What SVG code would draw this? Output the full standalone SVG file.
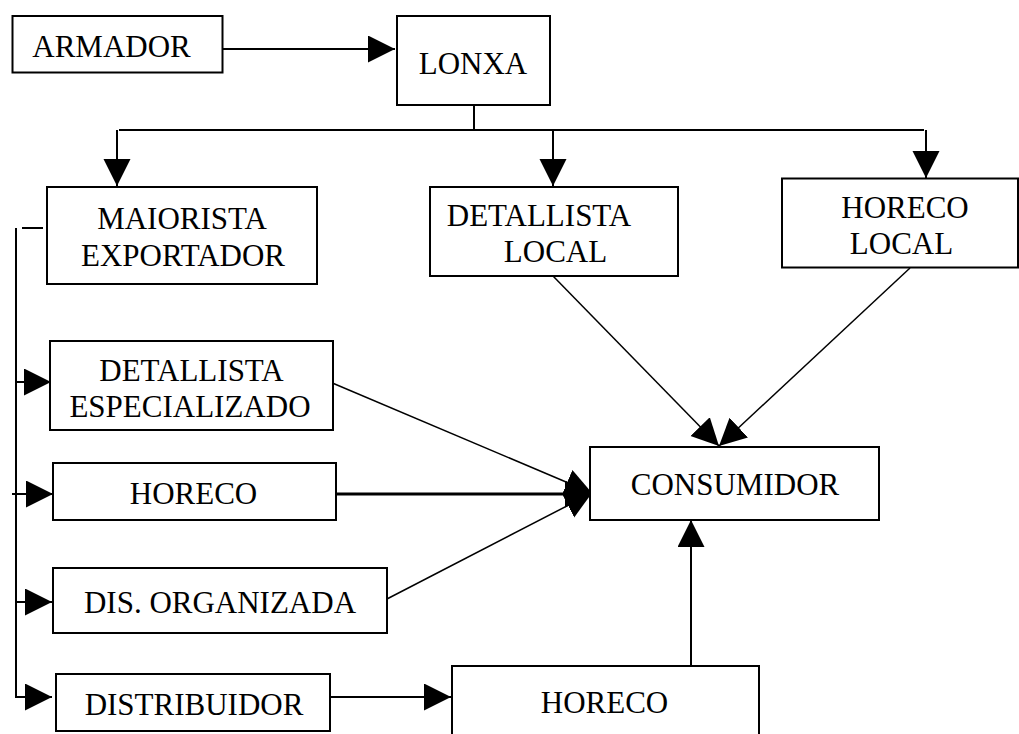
<svg xmlns="http://www.w3.org/2000/svg" width="1019" height="734" viewBox="0 0 1019 734">
<style>
.box{fill:#fff;stroke:#000;stroke-width:2}
.t{font-family:"Liberation Serif","Times New Roman",serif;font-size:31px;fill:#000;text-anchor:middle}
.c{fill:none;stroke:#000;stroke-width:2}
.thin{fill:none;stroke:#000;stroke-width:1.5}
.thick{fill:none;stroke:#000;stroke-width:3}
</style>
<defs>
<marker id="ah" markerUnits="userSpaceOnUse" markerWidth="28" markerHeight="28" refX="27" refY="13.5" orient="auto" viewBox="0 0 28 28">
<path d="M0,0 L27,13.5 L0,27 z" fill="#000"/>
</marker>
</defs>
<rect width="1019" height="734" fill="#fff"/>
<g id="connectors">
<line class="c" x1="221" y1="49" x2="395" y2="49" marker-end="url(#ah)"/>
<line class="c" x1="474" y1="105" x2="474" y2="130"/>
<line class="c" x1="119" y1="130" x2="924" y2="130"/>
<line class="c" x1="117" y1="130" x2="117" y2="186" marker-end="url(#ah)"/>
<line class="c" x1="553" y1="130" x2="553" y2="186" marker-end="url(#ah)"/>
<line class="c" x1="926" y1="130" x2="926" y2="178" marker-end="url(#ah)"/>
<line class="c" x1="22" y1="228" x2="43" y2="228"/>
<path class="c" d="M16,228 V697 H52" marker-end="url(#ah)"/>
<line class="c" x1="16" y1="382" x2="51" y2="382" marker-end="url(#ah)"/>
<line class="c" x1="12" y1="494" x2="53" y2="494" marker-end="url(#ah)"/>
<line class="c" x1="16" y1="602" x2="52" y2="602" marker-end="url(#ah)"/>
<line class="c" x1="330" y1="697" x2="451" y2="697" marker-end="url(#ah)"/>
<line class="thin" x1="330" y1="382" x2="592" y2="493" marker-end="url(#ah)"/>
<line class="thick" x1="333" y1="494" x2="592" y2="494" marker-end="url(#ah)"/>
<line class="thin" x1="385" y1="600" x2="592" y2="493" marker-end="url(#ah)"/>
<line class="thin" x1="553" y1="276" x2="719" y2="446" marker-end="url(#ah)"/>
<line class="thin" x1="910" y1="268" x2="719" y2="446" marker-end="url(#ah)"/>
<line class="c" x1="691" y1="666" x2="691" y2="520" marker-end="url(#ah)"/>
</g>
<g id="armador"><rect class="box" x="12.5" y="16" width="210" height="56.5"/><text class="t" x="111.5" y="57">ARMADOR</text></g>
<g id="lonxa"><rect class="box" x="397" y="16" width="153" height="89"/><text class="t" x="473" y="73.5">LONXA</text></g>
<g id="maiorista"><rect class="box" x="47" y="187" width="270" height="97"/><text class="t" x="182" y="229">MAIORISTA</text><text class="t" x="183" y="266">EXPORTADOR</text></g>
<g id="detallista-local"><rect class="box" x="430" y="187" width="248" height="89"/><text class="t" x="539" y="226">DETALLISTA</text><text class="t" x="555.5" y="262">LOCAL</text></g>
<g id="horeco-local"><rect class="box" x="782" y="178.5" width="236" height="89"/><text class="t" x="905" y="218">HORECO</text><text class="t" x="901.5" y="254">LOCAL</text></g>
<g id="detallista-esp"><rect class="box" x="50" y="341" width="283" height="89"/><text class="t" x="191.5" y="381">DETALLISTA</text><text class="t" x="190" y="417">ESPECIALIZADO</text></g>
<g id="horeco"><rect class="box" x="53" y="463" width="283" height="57"/><text class="t" x="193.5" y="504">HORECO</text></g>
<g id="dis-organizada"><rect class="box" x="53" y="568" width="334" height="65"/><text class="t" x="220" y="613">DIS. ORGANIZADA</text></g>
<g id="distribuidor"><rect class="box" x="56" y="674" width="274" height="57"/><text class="t" x="194" y="715">DISTRIBUIDOR</text></g>
<g id="consumidor"><rect class="box" x="590" y="447" width="289" height="73"/><text class="t" x="735" y="495">CONSUMIDOR</text></g>
<g id="horeco-bottom"><rect class="box" x="452" y="666" width="307" height="80"/><text class="t" x="604.5" y="713">HORECO</text></g>
</svg>
